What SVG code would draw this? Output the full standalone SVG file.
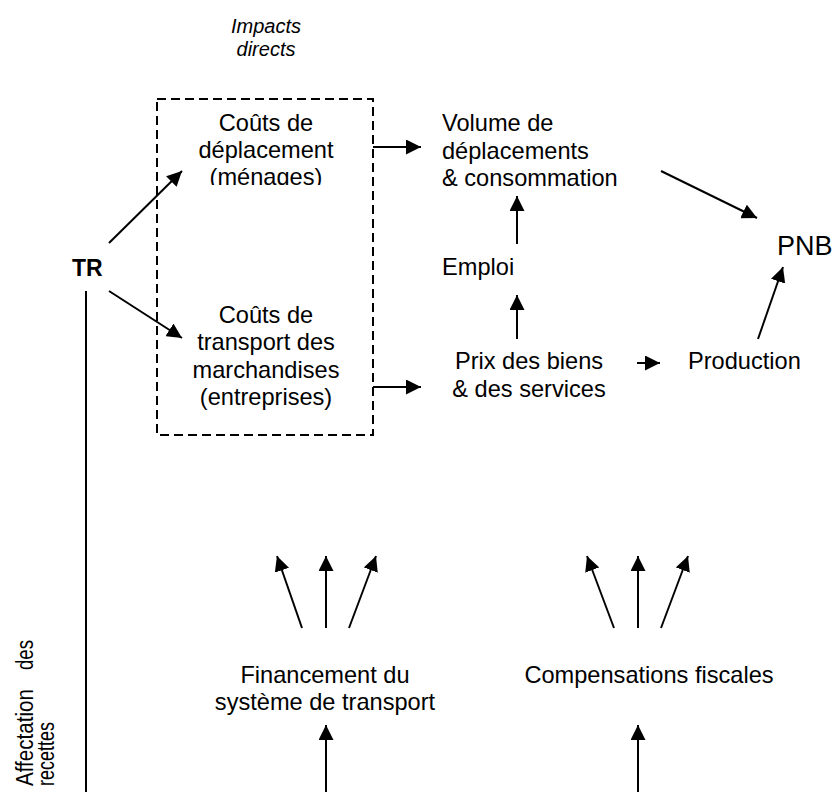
<svg xmlns="http://www.w3.org/2000/svg" width="835" height="792" viewBox="0 0 835 792">
<style>
text{font-family:"Liberation Sans",Arial,sans-serif;font-size:23.6px;fill:#000}
.c{text-anchor:middle}
.it{font-style:italic;font-size:20px}
.b{font-weight:bold;font-size:23px}
.big{font-size:27px}
.side{font-size:23px}
.ln{stroke:#000;stroke-width:2;fill:none;marker-end:url(#ah)}
.pl{stroke:#000;stroke-width:2;fill:none}
.box{stroke:#000;stroke-width:2;fill:none;stroke-dasharray:9 5}
</style>
<defs>
<marker id="ah" markerUnits="userSpaceOnUse" markerWidth="16" markerHeight="15" refX="15" refY="7.5" orient="auto">
<path d="M0,0 L15,7.5 L0,15 z" fill="#000"/>
</marker>
<clipPath id="clip1"><rect x="150" y="100" width="230" height="85"/></clipPath>
</defs>

<g id="impacts-label">
<text class="c it" x="266" y="33">Impacts</text>
<text class="c it" x="266" y="56">directs</text>
</g>

<g id="direct-box"><rect class="box" x="157" y="99" width="216" height="336"/></g>

<g id="couts-deplacement" clip-path="url(#clip1)">
<text class="c" x="266" y="131">Coûts de</text>
<text class="c" x="266" y="158">déplacement</text>
<text class="c" x="266" y="185">(ménages)</text>
</g>

<g id="couts-transport">
<text class="c" x="266" y="323">Coûts de</text>
<text class="c" x="266" y="350">transport des</text>
<text class="c" x="266" y="378">marchandises</text>
<text class="c" x="266" y="405">(entreprises)</text>
</g>

<g id="tr"><text class="b" x="72" y="276">TR</text></g>

<g id="volume">
<text x="442" y="131">Volume de</text>
<text x="442" y="159">déplacements</text>
<text x="442" y="186">&amp; consommation</text>
</g>

<g id="emploi"><text x="442" y="275">Emploi</text></g>

<g id="prix">
<text class="c" x="529" y="369">Prix des biens</text>
<text class="c" x="529" y="397">&amp; des services</text>
</g>

<g id="production"><text x="688" y="369">Production</text></g>

<g id="pnb"><text class="big" x="777" y="255">PNB</text></g>

<g id="financement">
<text class="c" x="325" y="683">Financement du</text>
<text class="c" x="325" y="710">système de transport</text>
</g>

<g id="compensations"><text class="c" x="649" y="683">Compensations fiscales</text></g>

<g id="affectation">
<text class="side" transform="translate(33,786) rotate(-90)" textLength="97" lengthAdjust="spacingAndGlyphs">Affectation</text>
<text class="side" transform="translate(33,670) rotate(-90)" textLength="30" lengthAdjust="spacingAndGlyphs">des</text>
<text class="side" transform="translate(54,786) rotate(-90)" textLength="64" lengthAdjust="spacingAndGlyphs">recettes</text>
</g>

<g id="connectors">
<line class="ln" x1="109" y1="243" x2="182" y2="171"/>
<line class="ln" x1="109" y1="291" x2="182" y2="338"/>
<line class="ln" x1="373" y1="147" x2="421" y2="147"/>
<line class="ln" x1="373" y1="387" x2="421" y2="387"/>
<line class="ln" x1="661" y1="171" x2="757" y2="218"/>
<line class="ln" x1="758" y1="339" x2="783" y2="267"/>
<line class="ln" x1="517" y1="244" x2="517" y2="196"/>
<line class="ln" x1="517" y1="339" x2="517" y2="295"/>
<line class="ln" x1="637" y1="363" x2="660" y2="363"/>
<line class="pl" x1="86" y1="291" x2="86" y2="792"/>
<line class="ln" x1="302" y1="628" x2="277" y2="556"/>
<line class="ln" x1="326" y1="628" x2="326" y2="556"/>
<line class="ln" x1="349" y1="628" x2="376" y2="556"/>
<line class="ln" x1="326" y1="792" x2="326" y2="725"/>
<line class="ln" x1="614" y1="628" x2="587" y2="556"/>
<line class="ln" x1="638" y1="628" x2="638" y2="556"/>
<line class="ln" x1="661" y1="628" x2="688" y2="556"/>
<line class="ln" x1="638" y1="792" x2="638" y2="725"/>
</g>
</svg>
